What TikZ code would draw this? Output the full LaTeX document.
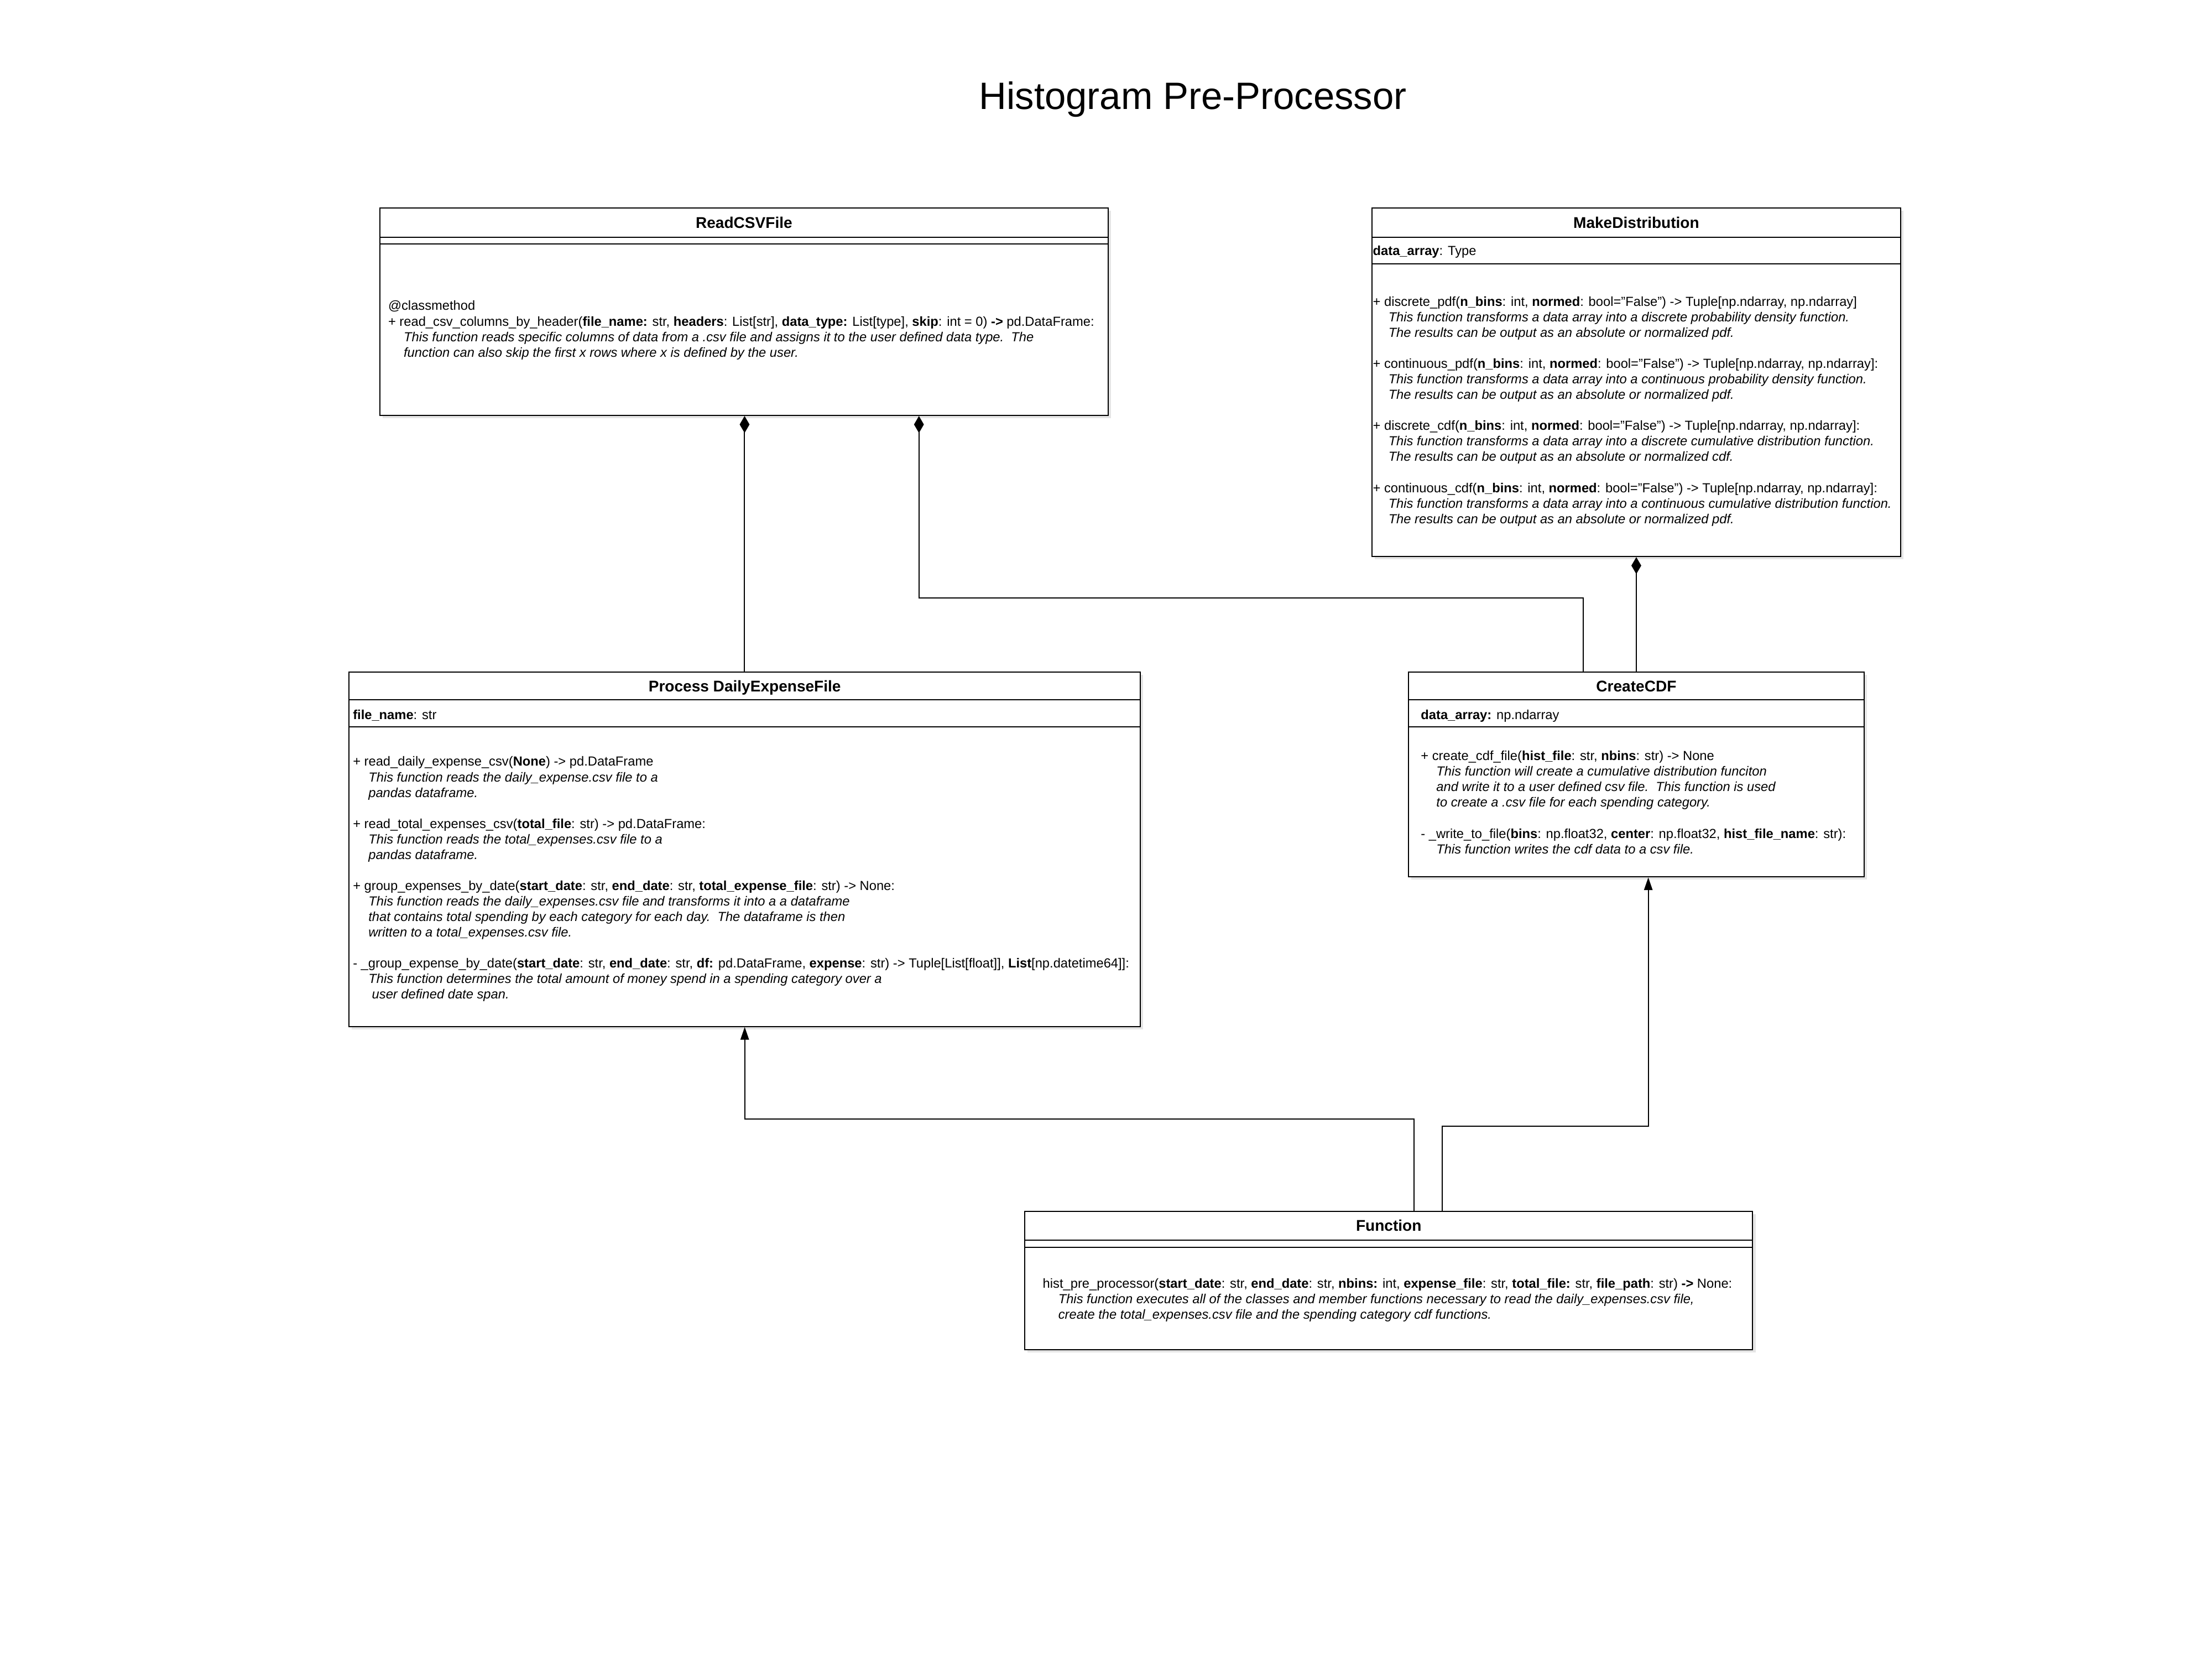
\documentclass[tikz,border=0pt]{standalone}
\usepackage{fontspec}
\setmainfont{Liberation Sans}
\usetikzlibrary{arrows.meta,shadows}
\begin{document}
\begin{tikzpicture}[x=1pt,y=-1pt,
cls/.style={draw,line width=.8pt,fill=white,anchor=north west,inner sep=0pt,drop shadow={opacity=.2,shadow xshift=2pt,shadow yshift=-2pt}},
hd/.style={anchor=base,inner sep=0pt,font=\fontsize{11}{13}\selectfont\bfseries},
txt/.style={anchor=north west,inner sep=0pt,align=left,font=\fontsize{9.3}{11}\selectfont},
comp/.style={{Diamond[length=12pt,width=7pt]}-,line width=.8pt},
inh/.style={-{Triangle[length=9pt,width=6pt]},line width=.8pt}]
\path[use as bounding box,fill=white] (0,0) rectangle (1568,1176);
\node[anchor=base,font=\fontsize{27}{32}\selectfont] (title) at (845.6,77.4) {Histogram Pre-Processor};
% classes
\node[cls,minimum width=516pt,minimum height=147pt] (rcsv) at (269,147) {};
\node[cls,minimum width=375pt,minimum height=247pt] (mdist) at (972,147) {};
\node[cls,minimum width=561pt,minimum height=251pt] (pdef) at (247,476) {};
\node[cls,minimum width=323pt,minimum height=145pt] (cdf) at (998,476) {};
\node[cls,minimum width=516pt,minimum height=98pt] (fn) at (726,858) {};
\foreach \b/\d in {rcsv/21,rcsv/26,mdist/21,mdist/40,pdef/20,pdef/39,cdf/20,cdf/39,fn/21,fn/26}
  \draw[line width=.8pt] ([yshift=-\d]\b.north west) -- ([yshift=-\d]\b.north east);
\node[hd] (rcsvT) at ([yshift=-14.5]rcsv.north) {ReadCSVFile};
\node[hd] (mdistT) at ([yshift=-14.5]mdist.north) {MakeDistribution};
\node[hd] (pdefT) at ([yshift=-14]pdef.north) {Process DailyExpenseFile};
\node[hd] (cdfT) at ([yshift=-14]cdf.north) {CreateCDF};
\node[hd] (fnT) at ([yshift=-14.5]fn.north) {Function};
% members
\node[txt] (rcsvM) at ([shift={(6,65)}]rcsv.north west) {\strut @classmethod\\
+ read\_csv\_columns\_by\_header(\textbf{file\_name:} str, \textbf{headers}: List[str], \textbf{data\_type:} List[type], \textbf{skip}: int = 0) \textbf{->} pd.DataFrame:\\
\hspace*{11pt}\textit{This function reads specific columns of data from a .csv file and assigns it to the user defined data type.\ \ The}\\
\hspace*{11pt}\textit{function can also skip the first x rows where x is defined by the user.}};
\node[txt] (mdistA) at ([shift={(1,26)}]mdist.north west) {\strut\textbf{data\_array}: Type};
\node[txt] (mdistM) at ([shift={(1,62)}]mdist.north west) {\strut + discrete\_pdf(\textbf{n\_bins}: int, \textbf{normed}: bool="False") -> Tuple[np.ndarray, np.ndarray]\\
\hspace*{11pt}\textit{This function transforms a data array into a discrete probability density function.}\\
\hspace*{11pt}\textit{The results can be output as an absolute or normalized pdf.}\\[11pt]
+ continuous\_pdf(\textbf{n\_bins}: int, \textbf{normed}: bool="False") -> Tuple[np.ndarray, np.ndarray]:\\
\hspace*{11pt}\textit{This function transforms a data array into a continuous probability density function.}\\
\hspace*{11pt}\textit{The results can be output as an absolute or normalized pdf.}\\[11pt]
+ discrete\_cdf(\textbf{n\_bins}: int, \textbf{normed}: bool="False") -> Tuple[np.ndarray, np.ndarray]:\\
\hspace*{11pt}\textit{This function transforms a data array into a discrete cumulative distribution function.}\\
\hspace*{11pt}\textit{The results can be output as an absolute or normalized cdf.}\\[11pt]
+ continuous\_cdf(\textbf{n\_bins}: int, \textbf{normed}: bool="False") -> Tuple[np.ndarray, np.ndarray]:\\
\hspace*{11pt}\textit{This function transforms a data array into a continuous cumulative distribution function.}\\
\hspace*{11pt}\textit{The results can be output as an absolute or normalized pdf.}};
\node[txt] (pdefA) at ([shift={(3,26)}]pdef.north west) {\strut\textbf{file\_name}: str};
\node[txt] (pdefM) at ([shift={(3,59)}]pdef.north west) {\strut + read\_daily\_expense\_csv(\textbf{None}) -> pd.DataFrame\\
\hspace*{11pt}\textit{This function reads the daily\_expense.csv file to a}\\
\hspace*{11pt}\textit{pandas dataframe.}\\[11pt]
+ read\_total\_expenses\_csv(\textbf{total\_file}: str) -> pd.DataFrame:\\
\hspace*{11pt}\textit{This function reads the total\_expenses.csv file to a}\\
\hspace*{11pt}\textit{pandas dataframe.}\\[11pt]
+ group\_expenses\_by\_date(\textbf{start\_date}: str, \textbf{end\_date}: str, \textbf{total\_expense\_file}: str) -> None:\\
\hspace*{11pt}\textit{This function reads the daily\_expenses.csv file and transforms it into a a dataframe}\\
\hspace*{11pt}\textit{that contains total spending by each category for each day.\ \ The dataframe is then}\\
\hspace*{11pt}\textit{written to a total\_expenses.csv file.}\\[11pt]
- \_group\_expense\_by\_date(\textbf{start\_date}: str, \textbf{end\_date}: str, \textbf{df:} pd.DataFrame, \textbf{expense}: str) -> Tuple[List[float]], \textbf{List}[np.datetime64]]:\\
\hspace*{11pt}\textit{This function determines the total amount of money spend in a spending category over a}\\
\hspace*{13.5pt}\textit{user defined date span.}};
\node[txt] (cdfA) at ([shift={(9,26)}]cdf.north west) {\strut\textbf{data\_array:} np.ndarray};
\node[txt] (cdfM) at ([shift={(9,55)}]cdf.north west) {\strut + create\_cdf\_file(\textbf{hist\_file}: str, \textbf{nbins}: str) -> None\\
\hspace*{11pt}\textit{This function will create a cumulative distribution funciton}\\
\hspace*{11pt}\textit{and write it to a user defined csv file.\ \ This function is used}\\
\hspace*{11pt}\textit{to create a .csv file for each spending category.}\\[11pt]
- \_write\_to\_file(\textbf{bins}: np.float32, \textbf{center}: np.float32, \textbf{hist\_file\_name}: str):\\
\hspace*{11pt}\textit{This function writes the cdf data to a csv file.}};
\node[txt] (fnM) at ([shift={(13,47)}]fn.north west) {\strut hist\_pre\_processor(\textbf{start\_date}: str, \textbf{end\_date}: str, \textbf{nbins:} int, \textbf{expense\_file}: str, \textbf{total\_file:} str, \textbf{file\_path}: str) \textbf{->} None:\\
\hspace*{11pt}\textit{This function executes all of the classes and member functions necessary to read the daily\_expenses.csv file,}\\
\hspace*{11pt}\textit{create the total\_expenses.csv file and the spending category cdf functions.}};
% relations
\draw[comp] ([xshift=.4pt]rcsv.south) -- ([xshift=.4pt]rcsv.south |- pdef.north);
\draw[comp] ([xshift=124pt]rcsv.south) -- ++(0,129) -| ([xshift=-37.5pt]cdf.north);
\draw[comp] (mdist.south) -- (cdf.north);
\draw[inh] ([xshift=18pt]fn.north) -- ++(0,-65) -| (pdef.south);
\draw[inh] ([xshift=38pt]fn.north) -- ++(0,-60) -| ([xshift=8.5pt]cdf.south);
\end{tikzpicture}
\end{document}
